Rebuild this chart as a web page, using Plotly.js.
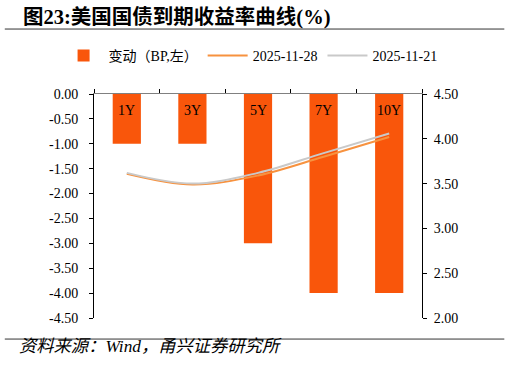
<!DOCTYPE html>
<html><head><meta charset="utf-8">
<script src="https://cdn.plot.ly/plotly-3.0.1.min.js"></script>
<style>html,body{margin:0;padding:0;background:#fff;}#c{width:509px;height:366px;}</style>
</head><body><div id="c"></div>
<script>
const categories = ['1Y','3Y','5Y','7Y','10Y'];
const changeBP = [-1, -1, -3, -4, -4];
const yield1128 = [3.61, 3.49, 3.59, 3.80, 4.02];
const yield1121 = [3.62, 3.50, 3.62, 3.84, 4.06];
const leftTickVals = [0, -0.5, -1, -1.5, -2, -2.5, -3, -3.5, -4, -4.5];
const leftTickText = ['0.00','-0.50','-1.00','-1.50','-2.00','-2.50','-3.00','-3.50','-4.00','-4.50'];
const rightTickVals = [2, 2.5, 3, 3.5, 4, 4.5];
const rightTickText = ['2.00','2.50','3.00','3.50','4.00','4.50'];

const serif = 'Liberation Serif, Times New Roman, serif';
const cjk = 'Liberation Serif, Noto Sans CJK SC, serif';

const traces = [
  {type:'bar', x:categories, y:changeBP, name:'变动（BP,左）', yaxis:'y',
   marker:{color:'#F9560B', line:{width:0}}, hoverinfo:'skip'},
  {type:'scatter', mode:'lines', x:categories, y:yield1128, name:'2025-11-28', yaxis:'y2',
   line:{color:'#F7923F', width:2, shape:'spline', smoothing:1}},
  {type:'scatter', mode:'lines', x:categories, y:yield1121, name:'2025-11-21', yaxis:'y2',
   line:{color:'#C9C9C9', width:2, shape:'spline', smoothing:1}}
];

const catAnnotations = categories.map(c => ({
  xref:'x', yref:'y', x:c, y:0, yanchor:'top', yshift:-7, showarrow:false,
  text:c, font:{family:serif, size:14, color:'#000'}
}));

const layout = {
  width:509, height:366,
  margin:{l:94, r:87, t:94, b:48},
  paper_bgcolor:'#fff', plot_bgcolor:'#fff',
  font:{family:serif, size:14, color:'#000'},
  bargap:0.57,
  showlegend:true,
  legend:{orientation:'h', xref:'paper', yref:'paper', x:-0.108, xanchor:'left',
          y:1.17, yanchor:'middle',
          font:{family:cjk, size:14, color:'#000'}, traceorder:'normal', itemwidth:40},
  xaxis:{type:'category', side:'top', anchor:'y', showline:true, linecolor:'#808080', linewidth:1.5,
         ticks:'outside', tickson:'boundaries', ticklen:4, tickcolor:'#000',
         showticklabels:false, showgrid:false, zeroline:false},
  yaxis:{range:[-4.5,0], tickvals:leftTickVals, ticktext:leftTickText, showgrid:false, zeroline:false,
         showline:true, linecolor:'#000', linewidth:1, ticks:'outside', ticklen:4, tickcolor:'#000',
         ticklabelstandoff:8, tickfont:{family:serif, size:14, color:'#000'}},
  yaxis2:{range:[2,4.5], overlaying:'y', side:'right', tickvals:rightTickVals, ticktext:rightTickText,
          showgrid:false, zeroline:false, showline:true, linecolor:'#000', linewidth:1,
          ticks:'outside', ticklen:4, tickcolor:'#000', ticklabelstandoff:4,
          tickfont:{family:serif, size:14, color:'#000'}},
  annotations:[
    {xref:'paper', yref:'paper', x:-0.222, y:1.344, xanchor:'left', yanchor:'middle', showarrow:false,
     text:'<b>图23:美国国债到期收益率曲线(%)</b>', font:{family:cjk, size:20.5, color:'#000'}},
    {xref:'paper', yref:'paper', x:-0.235, y:-0.128, xanchor:'left', yanchor:'middle', showarrow:false,
     text:'<i>资料来源：Wind，甬兴证券研究所</i>', font:{family:cjk, size:17.3, color:'#000'}}
  ].concat(catAnnotations),
  shapes:[
    {type:'line', xref:'paper', yref:'paper', x0:-0.272, x1:1.251, y0:1.29, y1:1.29, line:{color:'#333', width:1}},
    {type:'line', xref:'paper', yref:'paper', x0:-0.272, x1:1.251, y0:-0.094, y1:-0.094, line:{color:'#333', width:1}}
  ]
};
Plotly.newPlot('c', traces, layout, {displayModeBar:false, staticPlot:true});
</script></body></html>
